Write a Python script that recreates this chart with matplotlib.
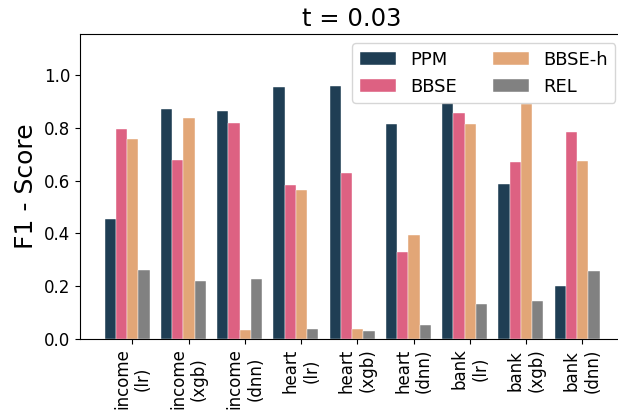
import numpy as np
import matplotlib
matplotlib.use('Agg')
import matplotlib.pyplot as plt

# F1 scores per dataset/model, t = 0.03
labels = ['income\n(lr)', 'income\n(xgb)', 'income\n(dnn)',
          'heart\n(lr)', 'heart\n(xgb)', 'heart\n(dnn)',
          'bank\n(lr)', 'bank\n(xgb)', 'bank\n(dnn)']
ppm = [0.456, 0.874, 0.866, 0.954, 0.958, 0.817, 0.895, 0.587, 0.199]
bbse = [0.796, 0.680, 0.818, 0.582, 0.631, 0.328, 0.858, 0.671, 0.786]
bbse_h = [0.757, 0.837, 0.033, 0.563, 0.038, 0.393, 0.814, 0.890, 0.675]
rel = [0.260, 0.219, 0.227, 0.037, 0.030, 0.051, 0.130, 0.142, 0.256]

series = [('PPM', ppm, '#1f3e54'),
          ('BBSE', bbse, '#dd6182'),
          ('BBSE-h', bbse_h, '#e2a677'),
          ('REL', rel, '#818181')]

fig = plt.figure(figsize=(6.18, 4.13), dpi=100)
ax = fig.add_axes([0.1294, 0.180, 0.881, 0.737])

x = np.arange(len(labels))
w = 0.2
for i, (name, vals, col) in enumerate(series):
    ax.bar(x + (i - 1.5) * w, vals, width=w, color=col, label=name,
           edgecolor='white', linewidth=0.3)

ax.set_xticks(x + 0.09)
ax.set_xticklabels(labels, rotation=90, fontsize=12, ha='center')
ax.tick_params(axis='y', labelsize=12)
ax.set_ylim(0, 1.156)
ax.set_yticks([0.0, 0.2, 0.4, 0.6, 0.8, 1.0])
ax.set_ylabel('F1 - Score', fontsize=18)
ax.set_title('t = 0.03', fontsize=17.5)
ax.legend(ncol=2, loc='upper right', fontsize=13)

fig.savefig('out.png', dpi=100)
